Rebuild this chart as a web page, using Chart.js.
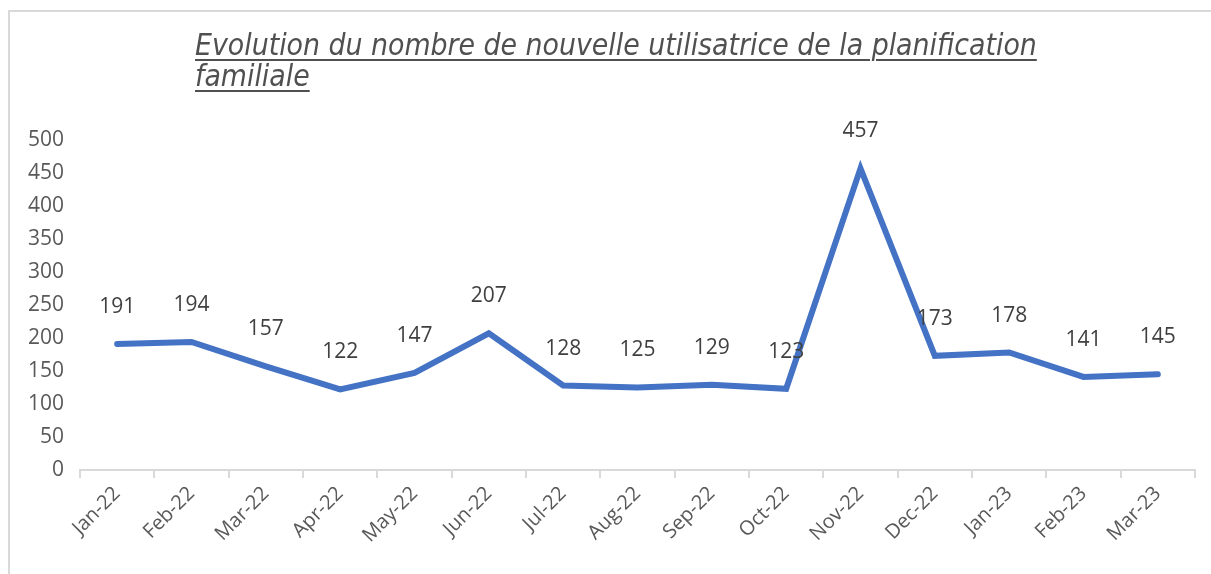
<!DOCTYPE html>
<html>
<head>
<meta charset="utf-8">
<script src="https://cdn.jsdelivr.net/npm/chart.js@4"></script>
<style>
  html, body { margin: 0; padding: 0; background: #ffffff; }
  #wrap { position: relative; width: 1211px; height: 574px; overflow: hidden; }
  #frame { position: absolute; left: 8px; top: 10px; width: 1300px; height: 700px;
           border-left: 2px solid #d9d9d9; border-top: 2px solid #d9d9d9; box-sizing: border-box; }
  #title { position: absolute; left: 195px; top: 29px; color: #505050;
           font-family: "DejaVu Sans Condensed", "DejaVu Sans", sans-serif; font-size: 26px;
           line-height: 31px; white-space: nowrap; font-style: italic; }
  #title span { text-decoration: underline; text-underline-offset: 4px; text-decoration-thickness: 2px; }
  canvas { position: absolute; left: 0; top: 0; }
</style>
</head>
<body>
<div id="wrap">
  <div id="frame"></div>
  <canvas id="c" width="1211" height="574"></canvas>
  <div id="title"><span id="t1">Evolution du nombre de nouvelle utilisatrice de la planification</span><br><span>familiale</span></div>
</div>
<script>
const categories = ["Jan-22","Feb-22","Mar-22","Apr-22","May-22","Jun-22","Jul-22","Aug-22","Sep-22","Oct-22","Nov-22","Dec-22","Jan-23","Feb-23","Mar-23"];
const values = [191,194,157,122,147,207,128,125,129,123,457,173,178,141,145];
const yMin = 0, yMax = 500, yStep = 50;

// fit title first line width to reference (~842px)
(function(){
  const t = document.getElementById('title');
  const t1 = document.getElementById('t1');
  const w = t1.getBoundingClientRect().width;
  const fs = 26 * 842 / w;
  t.style.fontSize = fs.toFixed(2) + 'px';
})();

const labelPlugin = {
  id: 'valueLabels',
  afterDatasetsDraw(chart) {
    const ctx = chart.ctx;
    const meta = chart.getDatasetMeta(0);
    ctx.save();
    ctx.font = '21px "Open Sans", sans-serif';
    ctx.fillStyle = '#404040';
    ctx.textAlign = 'center';
    ctx.textBaseline = 'middle';
    meta.data.forEach((pt, i) => {
      ctx.fillText(String(values[i]), pt.x, pt.y - 37);
    });
    ctx.restore();
  }
};

new Chart(document.getElementById('c'), {
  type: 'line',
  data: {
    labels: categories,
    datasets: [{
      data: values,
      borderColor: '#4472C4',
      borderWidth: 6,
      pointRadius: 0,
      tension: 0,
      borderCapStyle: 'round',
      borderJoinStyle: 'miter',
      fill: false
    }]
  },
  options: {
    responsive: false,
    animation: false,
    layout: { padding: { top: 140, right: 16, left: 0, bottom: 0 } },
    plugins: { legend: { display: false }, title: { display: false }, tooltip: { enabled: false } },
    scales: {
      x: {
        offset: true,
        grid: { offset: true, drawOnChartArea: false, drawTicks: true, tickLength: 8, color: '#d9d9d9', lineWidth: 2 },
        border: { display: true, color: '#d9d9d9', width: 2 },
        ticks: { color: '#595959', font: { family: '"Open Sans", sans-serif', size: 20 }, maxRotation: 45, minRotation: 45, padding: 4, autoSkip: false },
        afterFit(scale) { scale.height = 104; }
      },
      y: {
        min: yMin, max: yMax,
        grid: { display: false },
        border: { display: false },
        ticks: { stepSize: yStep, color: '#595959', font: { family: '"Open Sans", sans-serif', size: 21 }, padding: 8 },
        afterFit(scale) { scale.width = 80; }
      }
    }
  },
  plugins: [labelPlugin]
});
</script>
</body>
</html>
